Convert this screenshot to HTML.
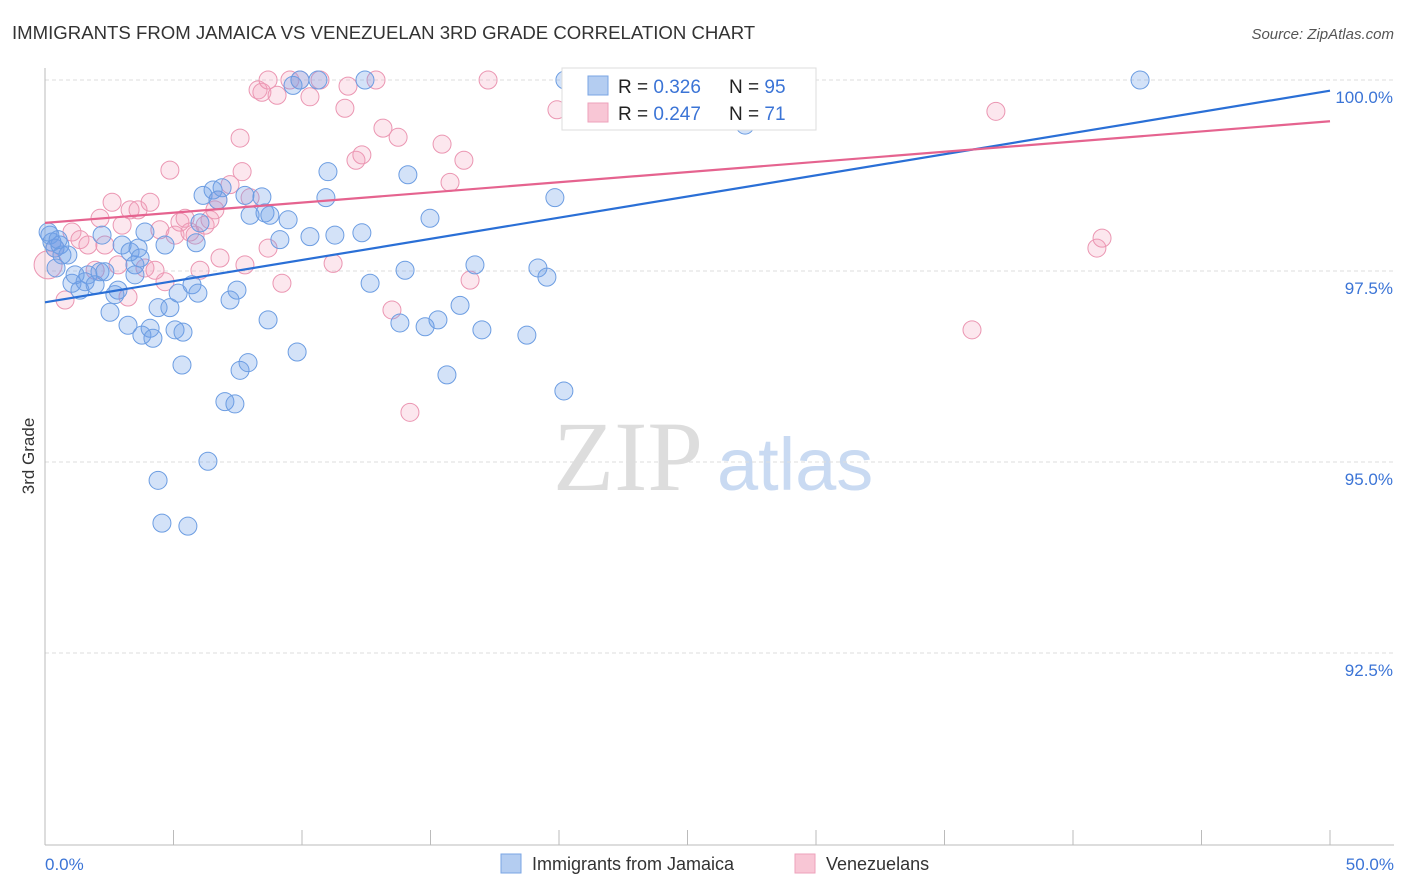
<!DOCTYPE html>
<html><head><meta charset="utf-8"><style>
body{margin:0;background:#fff;font-family:"Liberation Sans",sans-serif;}
svg{display:block}
</style></head><body>
<svg id="chart" width="1406" height="892">
<text x="12" y="39" font-size="18.6" fill="#333">IMMIGRANTS FROM JAMAICA VS VENEZUELAN 3RD GRADE CORRELATION CHART</text>
<text x="1394" y="39" font-size="15" fill="#555" font-style="italic" text-anchor="end">Source: ZipAtlas.com</text>
<g>
<text x="553" y="490" font-size="100" fill="#ddd" font-family="Liberation Serif,serif">ZIP</text>
<text x="717" y="490" font-size="74" fill="#c9daf2">atlas</text>
</g>
<g id="grid"></g>
<g id="axes"></g>
<g id="pts"></g>
<g id="trend"></g>
<text x="34" y="456" font-size="17" fill="#333" text-anchor="middle" transform="rotate(-90 34 456)">3rd Grade</text>
<text x="45" y="870" font-size="17" fill="#3b74d6">0.0%</text>
<text x="1394" y="870" font-size="17" fill="#3b74d6" text-anchor="end">50.0%</text>
<g>
<rect x="562" y="68" width="254" height="62" fill="#fff" stroke="#ddd"/>
<rect x="588" y="76" width="20" height="19" fill="#b4cdf1" stroke="#7aa5e4"/>
<rect x="588" y="103" width="20" height="19" fill="#f8c6d5" stroke="#eea2bb"/>
<text x="618" y="93" font-size="19" fill="#222">R = <tspan fill="#3b74d6">0.326</tspan></text>
<text x="729" y="93" font-size="19" fill="#222">N = <tspan fill="#3b74d6">95</tspan></text>
<text x="618" y="120" font-size="19" fill="#222">R = <tspan fill="#3b74d6">0.247</tspan></text>
<text x="729" y="120" font-size="19" fill="#222">N = <tspan fill="#3b74d6"> 71</tspan></text>
</g>
<g>
<rect x="501" y="854" width="20" height="19" fill="#b4cdf1" stroke="#7aa5e4"/>
<text x="532" y="870" font-size="18" fill="#333">Immigrants from Jamaica</text>
<rect x="795" y="854" width="20" height="19" fill="#f8c6d5" stroke="#eea2bb"/>
<text x="826" y="870" font-size="18" fill="#333">Venezuelans</text>
</g>
</svg>
<script>
const yTicks=[100,97.5,95,92.5];
const yTickLabels=["100.0%","97.5%","95.0%","92.5%"];
const xTicks=[0,5,10,15,20,25,30,35,40,45,50];
const blueX=[0.19,0.27,0.39,0.58,0.66,0.89,1.05,1.36,1.17,1.67,2.14,2.22,2.53,2.72,2.84,3.00,3.23,3.31,3.50,3.62,3.50,3.77,3.89,4.09,4.20,4.40,4.40,4.55,4.67,4.86,5.06,5.18,5.33,5.37,5.56,5.72,5.88,5.95,6.03,6.15,6.34,6.54,6.73,6.89,7.00,7.20,7.39,7.47,7.59,7.78,7.90,7.98,8.44,8.56,8.68,8.75,9.14,9.46,9.65,9.81,9.92,10.31,10.62,10.93,11.01,11.28,12.33,12.45,12.65,13.81,14.01,14.12,14.79,14.98,15.29,15.64,16.15,16.73,17.00,18.75,19.18,19.53,19.84,20.19,20.23,25.68,27.24,42.61,0.12,0.51,1.56,1.95,2.33,3.70,0.43];
const blueY=[97.97,97.88,97.80,97.84,97.71,97.71,97.34,97.25,97.45,97.45,97.49,97.97,96.96,97.19,97.25,97.84,96.79,97.75,97.58,97.80,97.45,96.66,98.01,96.75,96.62,97.02,94.76,94.20,97.84,97.02,96.73,97.21,96.27,96.70,94.16,97.32,97.87,97.21,98.13,98.49,95.01,98.56,98.43,98.59,95.79,97.12,95.76,97.25,96.20,98.49,96.30,98.23,98.47,98.26,96.86,98.23,97.91,98.17,99.93,96.44,100.0,97.95,100.0,98.46,98.80,97.97,98.00,100.0,97.34,96.82,97.51,98.76,96.77,98.19,96.86,96.14,97.05,97.58,96.73,96.66,97.54,97.42,98.46,95.93,100.0,100.0,99.41,100.0,98.01,97.91,97.36,97.32,97.49,97.67,97.54];
const pinkX=[0.12,0.39,0.78,1.05,1.36,1.67,1.95,2.14,2.33,2.61,2.84,3.00,3.23,3.31,3.62,3.89,4.09,4.28,4.47,4.67,4.86,5.06,5.25,5.45,5.64,5.84,6.03,6.23,6.42,6.61,6.73,6.81,7.20,7.59,7.67,7.78,7.98,8.29,8.44,8.68,8.68,9.03,9.22,9.53,9.92,10.31,10.70,11.21,11.67,11.79,12.10,12.33,12.88,13.15,13.50,13.74,14.20,15.45,15.76,16.30,16.54,17.24,19.92,36.07,37.00,40.93,41.13];
const pinkY=[97.58,97.80,97.12,98.01,97.91,97.84,97.51,98.19,97.84,98.40,97.58,98.10,97.16,98.30,98.30,97.54,98.40,97.51,98.04,97.36,98.82,97.97,98.14,98.19,98.01,97.97,97.51,98.10,98.17,98.30,98.43,97.67,98.63,99.24,98.80,97.58,98.46,99.87,99.84,97.80,100.0,99.80,97.34,100.0,100.0,99.78,100.0,97.60,99.63,99.92,98.95,99.02,100.0,99.37,96.99,99.25,95.65,99.16,98.66,98.95,97.38,100.0,99.61,96.73,99.59,97.80,97.93];
const blueTrend=[97.09,99.86];
const pinkTrend=[98.13,99.46];
const X=v=>45+v*25.7;
const Y=v=>80+(100-v)*76.4;
const NS="http://www.w3.org/2000/svg";
function mk(tag,parent,attrs){const e=document.createElementNS(NS,tag);for(const k in attrs)e.setAttribute(k,attrs[k]);document.getElementById(parent).appendChild(e);return e;}
yTicks.forEach((t,i)=>{
  const g=mk('line','grid',{x1:45,x2:1394,y1:Y(t),y2:Y(t),stroke:'#ddd','stroke-dasharray':'4,3'});
  
  
  const l=mk('text','grid',{x:1393,y:Y(t)+23,'font-size':17,fill:'#3b74d6','text-anchor':'end'});
  l.textContent=yTickLabels[i];
  
  
});
const ax=mk('line','axes',{x1:45,x2:45,y1:68,y2:845,stroke:'#bbb'});


const bx=mk('line','axes',{x1:45,x2:1394,y1:845,y2:845,stroke:'#bbb'});


xTicks.forEach(t=>{
  const k=mk('line','axes',{x1:X(t),x2:X(t),y1:830,y2:845,stroke:'#bbb'});
  
  
});
pinkX.forEach((v,i)=>{
  const c=mk('circle','pts',{cx:X(v),cy:Y(pinkY[i]),r:i===0?14:9,fill:'rgba(244,160,188,0.25)',stroke:'#eb96b2','stroke-width':1});
  
  
});
blueX.forEach((v,i)=>{
  const c=mk('circle','pts',{cx:X(v),cy:Y(blueY[i]),r:9,fill:'rgba(110,160,232,0.3)',stroke:'#6c9de2','stroke-width':1});
  
  
});
const tb=mk('line','trend',{x1:X(0),y1:Y(blueTrend[0]),x2:X(50),y2:Y(blueTrend[1]),stroke:'#2a6fd6','stroke-width':2.2});


const tp=mk('line','trend',{x1:X(0),y1:Y(pinkTrend[0]),x2:X(50),y2:Y(pinkTrend[1]),stroke:'#e5638f','stroke-width':2.2});


</script>
</body></html>
